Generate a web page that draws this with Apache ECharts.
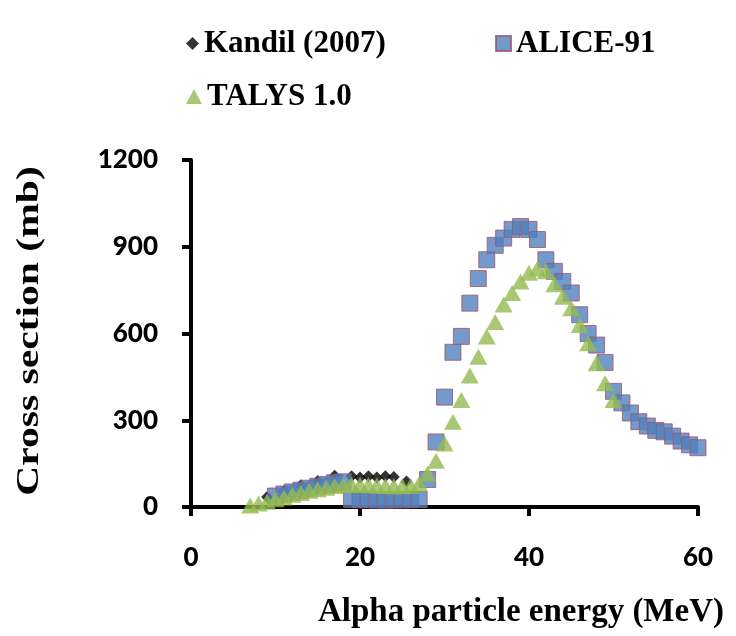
<!DOCTYPE html>
<html>
<head>
<meta charset="utf-8">
<script src="https://cdn.jsdelivr.net/npm/echarts@6/dist/echarts.min.js"></script>
<style>
  html, body { margin: 0; padding: 0; background: #fff; }
  #chart { width: 736px; height: 636px; }
</style>
</head>
<body>
<div id="chart"></div>
<script>
// Excitation functions: cross section (mb) vs alpha particle energy (MeV)
const kandilEnergy = [9, 11, 13, 15, 17, 19, 20, 21, 22, 23, 24, 25.5];
const kandilXS     = [35, 55, 75, 90, 108, 106, 102, 106, 102, 106, 104, 88];

const aliceEnergy = [10, 11, 12, 13, 14, 15, 16, 17, 18, 19, 20, 21, 22, 23, 24, 25, 26, 27,
                     28, 29, 30, 31, 32, 33, 34, 35, 36, 37, 38, 39, 40, 41, 42, 43, 44,
                     45, 46, 47, 48, 49, 50, 51, 52, 53, 54, 55, 56, 57, 58, 59, 60];
const aliceXS     = [38, 45, 52, 58, 65, 72, 78, 84, 87, 26, 25, 25, 24, 24, 24, 25, 25, 26,
                     95, 225, 380, 535, 590, 705, 790, 855, 905, 930, 960, 970, 960, 925, 855, 815, 780,
                     740, 665, 600, 560, 500, 400, 360, 325, 295, 280, 265, 260, 245, 228, 215, 205];

const talysEnergy = [7, 8, 9, 10, 11, 12, 13, 14, 15, 16, 17, 18, 19, 20, 21, 22, 23, 24, 25,
                     26, 27, 28, 29, 30, 31, 32, 33, 34, 35, 36, 37, 38, 39, 40, 41, 42, 43,
                     44, 45, 46, 47, 48, 49, 50];
const talysXS     = [5, 12, 18, 27, 33, 42, 48, 56, 61, 67, 73, 76, 77, 76, 75, 74, 73, 72, 72,
                     73, 80, 115, 160, 220, 295, 370, 455, 520, 590, 640, 700, 740, 780, 810, 825, 815, 770,
                     727, 687, 629, 566, 497, 428, 370];

const xTicks = [0, 20, 40, 60];
const yTicks = [0, 300, 600, 900, 1200];

const pairs = (xs, ys) => xs.map((x, i) => [x, ys[i]]);

const serif = '"Liberation Serif", "Times New Roman", serif';
const sans = 'Lato, "Open Sans", sans-serif';

const legendText = { fontFamily: serif, fontWeight: 'bold', fontSize: 31, color: '#000' };

const chart = echarts.init(document.getElementById('chart'), null, { renderer: 'canvas' });

chart.setOption({
  animation: false,
  backgroundColor: '#fff',
  grid: { left: 191, right: 38, top: 160, bottom: 129, containLabel: false },
  legend: [
    { data: [{ name: 'Kandil (2007)', icon: 'diamond' }], left: 186, top: 28, padding: 0,
      itemWidth: 13, itemHeight: 13, textStyle: legendText },
    { data: [{ name: 'ALICE-91', icon: 'rect' }], left: 495, top: 28, padding: 0,
      itemWidth: 15, itemHeight: 15, textStyle: legendText },
    { data: [{ name: 'TALYS 1.0', icon: 'triangle' }], left: 186, top: 81, padding: 0,
      itemWidth: 16, itemHeight: 15, textStyle: legendText }
  ],
  xAxis: {
    type: 'value', min: 0, max: 60, interval: 20,
    axisLine: { show: true, onZero: false, lineStyle: { color: '#000', width: 4 } },
    axisTick: { show: true, length: 9, lineStyle: { color: '#000', width: 4 } },
    splitLine: { show: false },
    axisLabel: {
      margin: 38, fontFamily: sans, fontWeight: 900, fontSize: 26, color: '#000',
      formatter: v => (xTicks.indexOf(v) >= 0 ? String(v) : '')
    }
  },
  yAxis: {
    type: 'value', min: 0, max: 1200, interval: 300,
    axisLine: { show: true, lineStyle: { color: '#000', width: 4 } },
    axisTick: { show: true, length: 9, lineStyle: { color: '#000', width: 4 } },
    splitLine: { show: false },
    axisLabel: {
      margin: 33, fontFamily: sans, fontWeight: 900, fontSize: 26, color: '#000',
      formatter: v => (yTicks.indexOf(v) >= 0 ? String(v) : '')
    }
  },
  graphic: [
    {
      type: 'text', x: 30, y: 331, rotation: Math.PI / 2, scaleX: 1.3,
      style: { text: 'Cross section (mb)', x: 0, y: 0, align: 'center', verticalAlign: 'middle',
               font: 'bold 32px ' + serif, fill: '#000' }
    },
    {
      type: 'text', x: 521, y: 612,
      style: { text: 'Alpha particle energy (MeV)', x: 0, y: 0, align: 'center', verticalAlign: 'middle',
               font: 'bold 33px ' + serif, fill: '#000' }
    }
  ],
  series: [
    {
      name: 'Kandil (2007)', type: 'scatter', symbol: 'diamond', symbolSize: 12,
      itemStyle: { color: '#000' },
      data: pairs(kandilEnergy, kandilXS)
    },
    {
      name: 'ALICE-91', type: 'scatter', symbol: 'rect', symbolSize: 16,
      itemStyle: { color: '#4F81BD', borderColor: '#A1536B', borderWidth: 1 },
      data: pairs(aliceEnergy, aliceXS)
    },
    {
      name: 'TALYS 1.0', type: 'scatter', symbol: 'triangle', symbolSize: [18, 16],
      itemStyle: { color: '#94BA50' },
      data: pairs(talysEnergy, talysXS)
    }
  ]
});
</script>
</body>
</html>
